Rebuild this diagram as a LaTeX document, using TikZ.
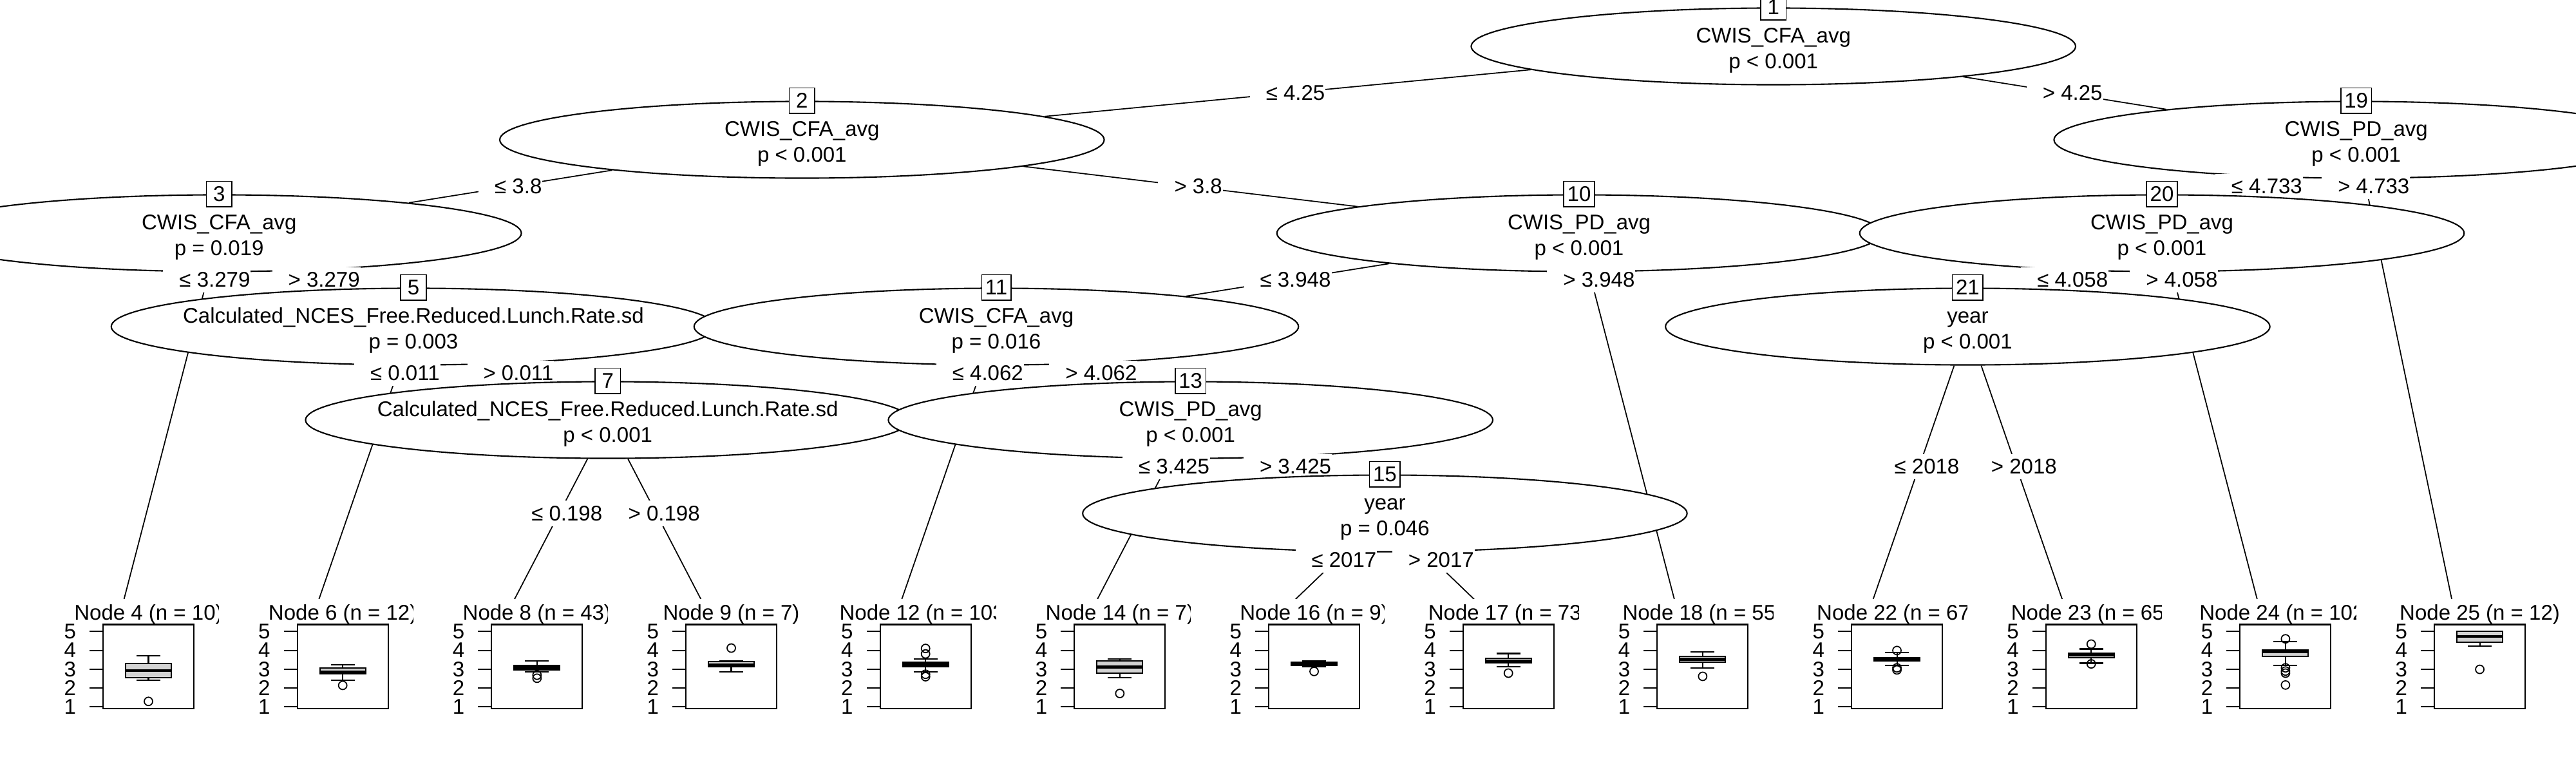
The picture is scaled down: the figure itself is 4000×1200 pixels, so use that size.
\documentclass[tikz,border=0pt]{standalone}
\usepackage{fontspec}
\setmainfont{Liberation Sans}
\usetikzlibrary{shapes.geometric,calc}
\pgfdeclarelayer{background}
\pgfsetlayers{background,main}
\definecolor{boxgray}{HTML}{D3D3D3}

\tikzset{
  splitnode/.style={ellipse, draw, fill=white, line width=0.6pt, inner sep=0pt,
    minimum width=9.38cm, minimum height=1.19cm},
  splittext/.style={inner sep=0pt},
  idbox/.style={draw, fill=white, line width=0.5pt, inner xsep=0.055cm, inner ysep=0pt,
    minimum width=0.396cm, minimum height=0.396cm},
  edgelab/.style={fill=white, inner xsep=0.01cm, inner ysep=0pt, minimum height=0.396cm,
    execute at begin node={\hspace*{0.24cm}}},
  treeedge/.style={line width=0.5pt},
  leafvp/.style={fill=white, inner sep=0pt, anchor=north,
    minimum width=3.0167cm, minimum height=1.79cm},
  plotframe/.style={line width=0.6pt},
  boxpart/.style={line width=0.6pt},
  medianline/.style={line width=1.3pt},
  outlier/.style={line width=0.5pt},
  ticklab/.style={anchor=east, inner sep=0pt}
}

% two-line text of an inner node
\newcommand\splittxt[2]{\begin{tabular}{@{}c@{}}\rule{0pt}{0.416cm}#1\\#2\end{tabular}}

% inner node: id, variable, p-value
\newcommand\innernode[3]{%
  \node[splitnode] (n#1) at (c#1) {};
  \node[splittext] (txt#1) at (n#1) {\splittxt{#2}{#3}};
  \node[idbox] (id#1) at (n#1.north) {#1};
}

% extra room on the right of a panel's clip (in cm)
\newcommand\clipextra{0}

% terminal panel: slot, id, n, lower whisker, q1, median, q3, upper whisker, outliers
\newcommand\leafpanel[9]{%
  \pgfmathsetmacro\leafx{189.5+301.67*#1}
  \node[leafvp] (leaf#2) at (\leafx,929) {};
  \begin{scope}
    \clip (leaf#2.south west) rectangle ([xshift=\clipextra cm]leaf#2.north east);
    \node[anchor=base, inner sep=0pt] (title#2) at ({\leafx+41},962) {Node #2 (n = #3)};
    \draw[boxpart, fill=boxgray] ({\leafx+5.5},{yv(#5)}) rectangle ({\leafx+76.5},{yv(#7)});
    \draw[medianline] ({\leafx+5.5},{yv(#6)}) -- ({\leafx+76.5},{yv(#6)});
    \draw[boxpart] ({\leafx+41},{yv(#7)}) -- ({\leafx+41},{yv(#8)});
    \draw[boxpart] ({\leafx+22.5},{yv(#8)}) -- ({\leafx+59.5},{yv(#8)});
    \draw[boxpart] ({\leafx+41},{yv(#5)}) -- ({\leafx+41},{yv(#4)});
    \draw[boxpart] ({\leafx+22.5},{yv(#4)}) -- ({\leafx+59.5},{yv(#4)});
    \foreach \o in {#9}
      \draw[outlier] ({\leafx+41},{yv(\o)}) circle [radius=0.065cm];
    \draw[plotframe] ({\leafx-29.5},969.5) rectangle ({\leafx+111.5},1100);
    \foreach \t in {1,...,5} {
      \draw[plotframe] ({\leafx-29.5},{yv(\t)}) -- ++(-21,0);
      \node[ticklab] (tick#2-\t) at ({\leafx-70.9},{yv(\t)}) {\t};
    }
  \end{scope}
}

\begin{document}
\begin{tikzpicture}[x=0.01cm, y=-0.01cm,
    font={\fontsize{9.39pt}{11.38pt}\selectfont},
    declare function={yv(\v)=1126.55-29.25*\v;}]
\useasboundingbox (0,0) rectangle (4000,1200);

% centres of the inner nodes
\coordinate (c1) at (2753.7,72);
\coordinate (c2) at (1245.3,217);
\coordinate (c19) at (3658.7,217);
\coordinate (c3) at (340.3,362);
\coordinate (c10) at (2452.0,362);
\coordinate (c20) at (3357.0,362);
\coordinate (c5) at (642.0,507);
\coordinate (c11) at (1547.0,507);
\coordinate (c21) at (3055.4,507);
\coordinate (c7) at (943.7,652);
\coordinate (c13) at (1848.7,652);
\coordinate (c15) at (2150.4,797);
% ends of the edges into the terminal panels
\coordinate (t4) at (189.5,942);
\coordinate (t6) at (491.2,942);
\coordinate (t8) at (792.8,942);
\coordinate (t9) at (1094.5,942);
\coordinate (t12) at (1396.2,942);
\coordinate (t14) at (1697.9,942);
\coordinate (t16) at (1999.5,942);
\coordinate (t17) at (2301.2,942);
\coordinate (t18) at (2602.9,942);
\coordinate (t22) at (2904.5,942);
\coordinate (t23) at (3206.2,942);
\coordinate (t24) at (3507.9,942);
\coordinate (t25) at (3809.5,942);

\innernode{1}{CWIS\_CFA\_avg}{p < 0.001}
\node[edgelab] (lab2) at ($(c1)!0.5!(c2)$) {≤ 4.25};
\innernode{2}{CWIS\_CFA\_avg}{p < 0.001}
\node[edgelab] (lab3) at ($(c2)!0.5!(c3)$) {≤ 3.8};
\innernode{3}{CWIS\_CFA\_avg}{p = 0.019}
\node[edgelab] (lab4) at ($(c3)!0.125!(t4)$) {≤ 3.279};
\leafpanel{0}{4}{10}{2.42}{2.55}{2.93}{3.29}{3.71}{1.29}
\node[edgelab] (lab5) at ($(c3)!0.5!(c5)$) {> 3.279};
\innernode{5}{Calculated\_NCES\_Free.Reduced.Lunch.Rate.sd}{p = 0.003}
\node[edgelab] (lab6) at ($(c5)!0.1667!(t6)$) {≤ 0.011};
\leafpanel{1}{6}{12}{2.42}{2.77}{2.85}{3.05}{3.23}{2.14}
\node[edgelab] (lab7) at ($(c5)!0.5!(c7)$) {> 0.011};
\innernode{7}{Calculated\_NCES\_Free.Reduced.Lunch.Rate.sd}{p < 0.001}
\node[edgelab] (lab8) at ($(c7)!0.5!(t8)$) {≤ 0.198};
\leafpanel{2}{8}{43}{2.85}{2.96}{3.07}{3.19}{3.43}{2.68,2.52}
\node[edgelab] (lab9) at ($(c7)!0.5!(t9)$) {> 0.198};
\leafpanel{3}{9}{7}{2.85}{3.13}{3.22}{3.40}{3.44}{4.12}
\node[edgelab] (lab10) at ($(c2)!0.5!(c10)$) {> 3.8};
\innernode{10}{CWIS\_PD\_avg}{p < 0.001}
\node[edgelab] (lab11) at ($(c10)!0.5!(c11)$) {≤ 3.948};
\innernode{11}{CWIS\_CFA\_avg}{p = 0.016}
\node[edgelab] (lab12) at ($(c11)!0.1667!(t12)$) {≤ 4.062};
\leafpanel{4}{12}{103}{2.85}{3.13}{3.25}{3.36}{3.54}{4.10,3.81,2.73,2.60}
\node[edgelab] (lab13) at ($(c11)!0.5!(c13)$) {> 4.062};
\innernode{13}{CWIS\_PD\_avg}{p < 0.001}
\node[edgelab] (lab14) at ($(c13)!0.25!(t14)$) {≤ 3.425};
\leafpanel{5}{14}{7}{2.56}{2.79}{3.11}{3.44}{3.54}{1.71}
\node[edgelab] (lab15) at ($(c13)!0.5!(c15)$) {> 3.425};
\innernode{15}{year}{p = 0.046}
\node[edgelab] (lab16) at ($(c15)!0.5!(t16)$) {≤ 2017};
\leafpanel{6}{16}{9}{3.13}{3.19}{3.27}{3.38}{3.44}{2.88}
\node[edgelab] (lab17) at ($(c15)!0.5!(t17)$) {> 2017};
\leafpanel{7}{17}{73}{3.13}{3.35}{3.44}{3.58}{3.83}{2.79}
\node[edgelab] (lab18) at ($(c10)!0.125!(t18)$) {> 3.948};
\leafpanel{8}{18}{55}{3.07}{3.36}{3.53}{3.69}{3.92}{2.62}
\node[edgelab] (lab19) at ($(c1)!0.5!(c19)$) {> 4.25};
\innernode{19}{CWIS\_PD\_avg}{p < 0.001}
\node[edgelab] (lab20) at ($(c19)!0.5!(c20)$) {≤ 4.733};
\innernode{20}{CWIS\_PD\_avg}{p < 0.001}
\node[edgelab] (lab21) at ($(c20)!0.5!(c21)$) {≤ 4.058};
\innernode{21}{year}{p < 0.001}
\node[edgelab] (lab22) at ($(c21)!0.5!(t22)$) {≤ 2018};
\leafpanel{9}{22}{67}{3.21}{3.44}{3.53}{3.62}{3.87}{3.99,3.07,2.96}
\node[edgelab] (lab23) at ($(c21)!0.5!(t23)$) {> 2018};
\leafpanel{10}{23}{65}{3.32}{3.62}{3.74}{3.86}{4.07}{4.33,3.28}
\node[edgelab] (lab24) at ($(c20)!0.125!(t24)$) {> 4.058};
\leafpanel{11}{24}{102}{3.19}{3.68}{3.91}{4.03}{4.46}{4.61,3.07,2.90,2.79,2.16}
\node[edgelab] (lab25) at ($(c19)!0.1!(t25)$) {> 4.733};
\renewcommand\clipextra{0.35}
\leafpanel{12}{25}{12}{4.21}{4.42}{4.73}{5.00}{5.00}{2.99}

% edges, behind everything
\begin{pgfonlayer}{background}
  \foreach \a/\b in {n1/n2, n1/n19, n2/n3, n2/n10, n3/t4, n3/n5, n5/t6, n5/n7,
      n7/t8, n7/t9, n10/n11, n10/t18, n11/t12, n11/n13, n13/t14, n13/n15,
      n15/t16, n15/t17, n19/n20, n19/t25, n20/n21, n20/t24, n21/t22, n21/t23}
    \draw[treeedge] (\a) -- (\b);
\end{pgfonlayer}
\end{tikzpicture}
\end{document}
